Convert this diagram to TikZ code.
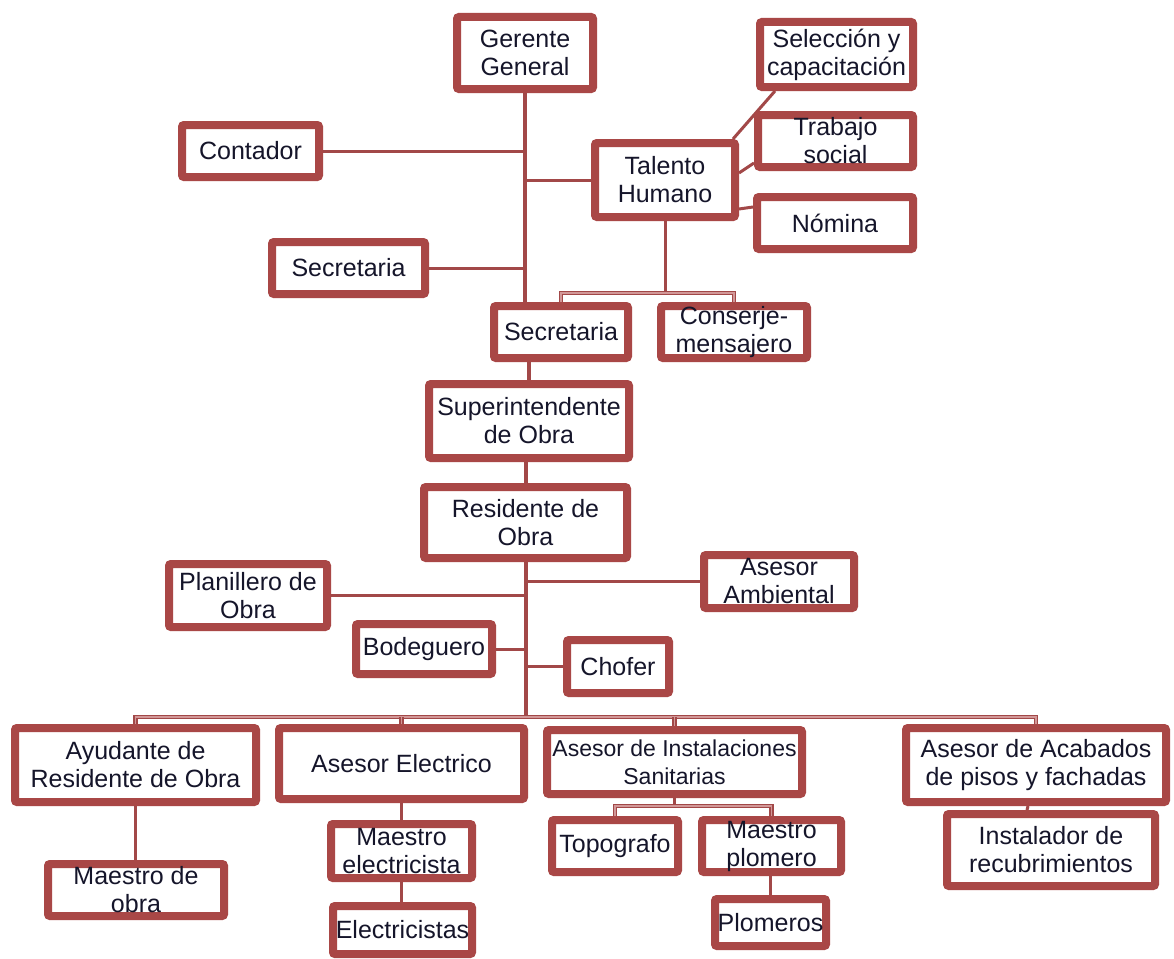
\documentclass[tikz,border=0pt]{standalone}
\usepackage{fontspec}
\setmainfont{Liberation Sans}
\usetikzlibrary{calc,shadows,backgrounds}
\definecolor{boxred}{HTML}{A94746}
\definecolor{linered}{HTML}{A24848}
\definecolor{buspink}{HTML}{D29898}
\definecolor{txt}{HTML}{15152A}
\newcommand{\bx}[7][]{%
  \pgfmathsetmacro\bxcx{(#3+#5)/2}%
  \pgfmathsetmacro\bxcy{(#4+#6)/2}%
  \pgfmathsetmacro\bxw{#5-#3-8}%
  \pgfmathsetmacro\bxh{#6-#4-8}%
  \node[orgbox,minimum width=\bxw pt,minimum height=\bxh pt,#1] (#2) at (\bxcx,\bxcy) {#7};}
\tikzset{
  orgbox/.style={draw=boxred,line width=8pt,fill=white,rounded corners=2pt,
    inner sep=0pt,align=center,text=txt,
    font=\fontsize{25}{28}\selectfont,
    drop shadow={shadow xshift=2pt,shadow yshift=-3pt,opacity=0.25,fill=black}},
  conn/.style={draw=linered,line width=3pt},
  trunk/.style={draw=linered,line width=4pt},
  busbar/.style={draw=linered,line width=1.4pt,double=buspink,double distance=1.8pt}
}
\begin{document}
\begin{tikzpicture}[x=1pt,y=-1pt]
\useasboundingbox (0,0) rectangle (1174,958);
\bx{gg}{453}{13}{597}{93}{Gerente\\General}
\bx{sel}{756}{18}{917}{91}{Selección y\\capacitación}
\bx{cont}{178}{121}{323}{181}{Contador}
\bx{th}{591}{139}{739}{221}{Talento\\Humano}
\bx{ts}{754}{111}{917}{171}{Trabajo\\social}
\bx{nom}{753}{193}{917}{253}{Nómina}
\bx{sec1}{268}{238}{429}{298}{Secretaria}
\bx{sec2}{490}{302}{632}{362}{Secretaria}
\bx{con}{657}{302}{811}{362}{Conserje-\\mensajero}
\bx{sup}{425}{380}{633}{462}{Superintendente\\de Obra}
\bx{res}{420}{483}{631}{562}{Residente de\\Obra}
\bx{plan}{165}{560}{331}{631}{Planillero de\\Obra}
\bx{amb}{700}{551}{858}{612}{Asesor\\Ambiental}
\bx{bod}{352}{620}{496}{678}{Bodeguero}
\bx{cho}{563}{636}{673}{697}{Chofer}
\bx{ayu}{11}{724}{260}{806}{Ayudante de\\Residente de Obra}
\bx{ae}{275}{724}{528}{803}{Asesor Electrico}
\bx[font=\fontsize{23}{28}\selectfont]{san}{543}{726}{806}{798}{Asesor de Instalaciones\\Sanitarias}
\bx{acab}{902}{724}{1170}{806}{Asesor de Acabados\\de pisos y fachadas}
\bx{mo}{44}{860}{228}{920}{Maestro de\\obra}
\bx{me}{327}{820}{476}{882}{Maestro\\electricista}
\bx{elec}{329}{902}{476}{958}{Electricistas}
\bx{topo}{548}{816}{682}{876}{Topografo}
\bx{mp}{698}{816}{845}{876}{Maestro\\plomero}
\bx{plom}{711}{895}{830}{950}{Plomeros}
\bx{inst}{943}{810}{1159}{890}{Instalador de\\recubrimientos}
\coordinate (thb) at (0,293);
\coordinate (mainbus) at (0,717);
\coordinate (sanbus) at (0,806);
\begin{scope}[on background layer]
\fill[white] (0,0) rectangle (1174,958);
\draw[trunk] (gg.south) -- (gg.south |- sec2.north);
\draw[conn] (cont.east) -- (cont.east -| gg.south);
\draw[conn] (sec1.east) -- (sec1.east -| gg.south);
\draw[conn] (th.west) -- (th.west -| gg.south);
\draw[conn] ($(th.north east)+(-6,0)$) -- ($(sel.south west)+(19,0)$);
\draw[conn] ($(th.east)+(0,-7)$) -- ($(ts.south west)+(0,-8)$);
\draw[conn] ($(th.east)+(0,29)$) -- ($(nom.west)+(0,-16)$);
\draw[conn] (th.south) -- (th.south |- thb);
\draw[busbar] (sec2.north) -- (sec2.north |- thb) -- (con.north |- thb) -- (con.north);
\draw[trunk] (sup.north) -- (sup.north |- sec2.south);
\draw[trunk] (res.north) -- (res.north |- sup.south);
\draw[trunk] (res.south) -- (res.south |- mainbus);
\draw[conn] (amb.west) -- (amb.west -| res.south);
\draw[conn] (plan.east) -- (plan.east -| res.south);
\draw[conn] (bod.east) -- (bod.east -| res.south);
\draw[conn] (cho.west) -- (cho.west -| res.south);
\draw[busbar] (ayu.north) -- (ayu.north |- mainbus) -- (acab.north |- mainbus) -- (acab.north);
\draw[busbar] (ae.north) -- (ae.north |- mainbus);
\draw[busbar] (san.north) -- (san.north |- mainbus);
\draw[conn] (ayu.south) -- (ayu.south |- mo.north);
\draw[conn] (ae.south) -- (ae.south |- me.north);
\draw[conn] (me.south) -- (me.south |- elec.north);
\draw[conn] (san.south) -- (san.south |- sanbus);
\draw[busbar] (topo.north) -- (topo.north |- sanbus) -- (mp.north |- sanbus) -- (mp.north);
\draw[conn] (plom.north) -- (plom.north |- mp.south);
\draw[conn] ($(acab.south)+(-8,0)$) -- ($(inst.north)+(-24,0)$);
\end{scope}
\end{tikzpicture}
\end{document}
